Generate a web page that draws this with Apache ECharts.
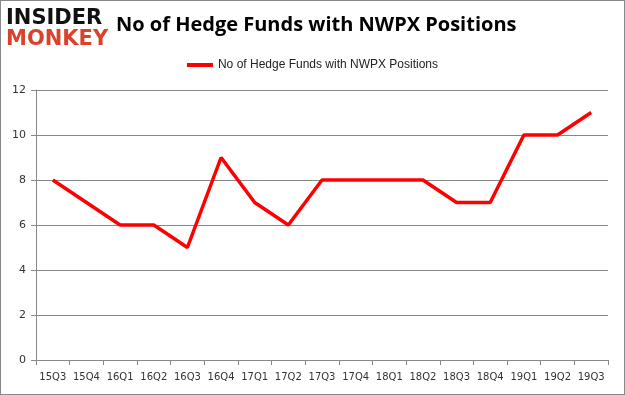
<!DOCTYPE html>
<html><head><meta charset="utf-8">
<script src="https://cdn.jsdelivr.net/npm/echarts@6/dist/echarts.min.js"></script>
<style>html,body{margin:0;padding:0;background:#fff}#c{width:625px;height:395px;box-sizing:border-box;border:1px solid #888}</style>
</head><body><div id="c"></div>
<script>
const categories = ['15Q3','15Q4','16Q1','16Q2','16Q3','16Q4','17Q1','17Q2','17Q3','17Q4','18Q1','18Q2','18Q3','18Q4','19Q1','19Q2','19Q3'];
const values = [8,7,6,6,5,9,7,6,8,8,8,8,7,7,10,10,11];
const seriesName = 'No of Hedge Funds with NWPX Positions';
const titleText = 'No of Hedge Funds with NWPX Positions';
const chart = echarts.init(document.getElementById('c'), null, {renderer:'canvas'});
chart.setOption({
  animation:false,
  title:{text:titleText,left:110,top:9,textStyle:{fontFamily:'Open Sans',fontSize:20,fontWeight:'bold',color:'#000'}},
  graphic:[
    {type:'text',left:5,top:7,style:{text:'INSIDER',fontFamily:'DejaVu Sans',fontWeight:'bold',fontSize:21,fill:'#111'}},
    {type:'text',left:5,top:28,style:{text:'MONKEY',fontFamily:'DejaVu Sans',fontWeight:'bold',fontSize:21,fill:'#d9432b'}}
  ],
  legend:{data:[seriesName],top:53,left:'center',itemWidth:26,itemHeight:4,itemGap:6,icon:'rect',textStyle:{fontFamily:'Liberation Sans',fontSize:12,color:'#222'}},
  grid:{left:35,right:16,top:89,bottom:34},
  xAxis:{type:'category',data:categories,boundaryGap:true,
    axisLine:{lineStyle:{color:'#888'}},axisTick:{show:true,alignWithLabel:false,interval:0,length:5,lineStyle:{color:'#888'}},
    axisLabel:{interval:0,color:'#333',fontFamily:'DejaVu Sans',fontSize:10,margin:12}},
  yAxis:{type:'value',min:0,max:12,interval:2,
    axisLine:{show:true,lineStyle:{color:'#888'}},axisTick:{show:true,length:5,lineStyle:{color:'#888'}},
    splitLine:{lineStyle:{color:'#888'}},
    axisLabel:{color:'#333',fontFamily:'DejaVu Sans',fontSize:11,margin:10}},
  series:[{name:seriesName,type:'line',data:values,symbol:'none',lineStyle:{color:'#ff0000',width:3.5},itemStyle:{color:'#ff0000'}}]
});
</script></body></html>
